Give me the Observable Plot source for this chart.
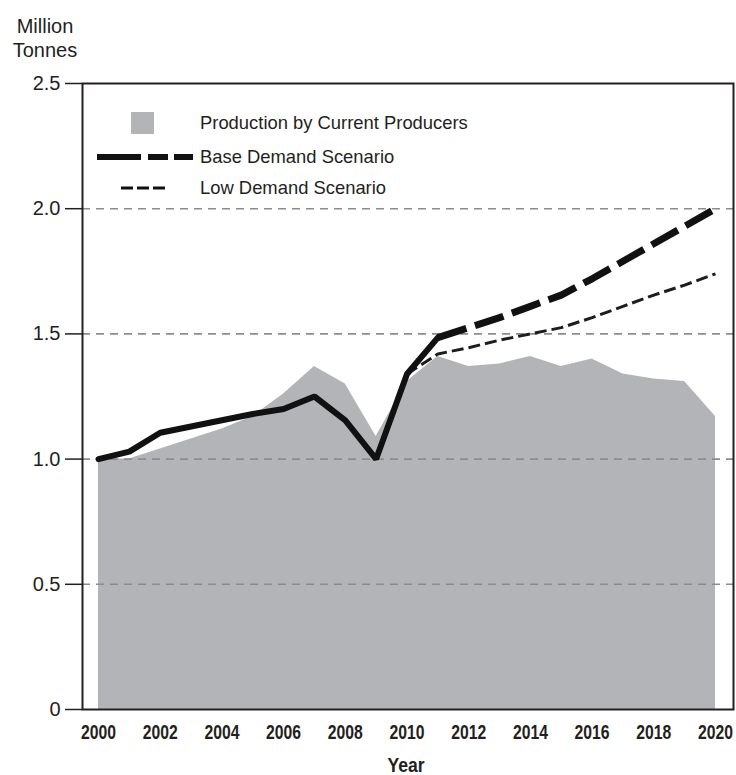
<!DOCTYPE html>
<html>
<head>
<meta charset="utf-8">
<script src="https://cdn.jsdelivr.net/npm/d3@7"></script>
<script src="https://cdn.jsdelivr.net/npm/@observablehq/plot@0.6"></script>
<style>
  html, body { margin: 0; padding: 0; background: #fff; }
  #wrap { position: relative; width: 736px; height: 775px; font-family: "Liberation Sans", Arial, sans-serif; color: #231f20; }
  .abs { position: absolute; white-space: nowrap; }
  .leg { font-size: 18.4px; line-height: 18px; }
</style>
</head>
<body>
<div id="wrap"></div>
<script>
// ---- data ----
const years = [2000, 2001, 2002, 2003, 2004, 2005, 2006, 2007, 2008, 2009, 2010,
               2011, 2012, 2013, 2014, 2015, 2016, 2017, 2018, 2019, 2020];
const production = [1.00, 1.00, 1.04, 1.08, 1.12, 1.17, 1.26, 1.37, 1.30, 1.09, 1.31,
                    1.41, 1.37, 1.38, 1.41, 1.37, 1.40, 1.34, 1.32, 1.31, 1.17];
const historyYears = [2000, 2001, 2002, 2003, 2004, 2005, 2006, 2007, 2008, 2009, 2010, 2011];
const historyDemand = [1.00, 1.03, 1.105, 1.13, 1.155, 1.18, 1.20, 1.25, 1.155, 1.00, 1.34, 1.485];
const baseYears = [2011, 2012, 2013, 2014, 2015, 2016, 2017, 2018, 2019, 2020];
const baseDemand = [1.485, 1.525, 1.565, 1.61, 1.655, 1.72, 1.79, 1.86, 1.93, 2.00];
const lowYears = [2010, 2011, 2012, 2013, 2014, 2015, 2016, 2017, 2018, 2019, 2020];
const lowDemand = [1.34, 1.42, 1.445, 1.475, 1.50, 1.525, 1.565, 1.61, 1.655, 1.695, 1.74];
const yTicks = [0, 0.5, 1.0, 1.5, 2.0, 2.5];
const xTicks = [2000, 2002, 2004, 2006, 2008, 2010, 2012, 2014, 2016, 2018, 2020];
const gridValues = [0.5, 1.0, 1.5, 2.0];
const legendLabels = ["Production by Current Producers", "Base Demand Scenario", "Low Demand Scenario"];
const yUnitLines = ["Million", "Tonnes"];
const xTitle = "Year";

// ---- tables ----
const prodData = years.map((y, i) => ({year: y, value: production[i]}));
const histData = historyYears.map((y, i) => ({year: y, value: historyDemand[i]}));
const baseData = baseYears.map((y, i) => ({year: y, value: baseDemand[i]}));
const lowData = lowYears.map((y, i) => ({year: y, value: lowDemand[i]}));

const ink = "#231f20";

const chart = Plot.plot({
  width: 736,
  height: 775,
  marginTop: 83,
  marginBottom: 66,
  marginLeft: 82,
  marginRight: 3,
  insetLeft: 16,
  insetRight: 18,
  style: {fontFamily: "'Liberation Sans', Arial, sans-serif", color: ink, background: "#fff"},
  x: {domain: [2000, 2020]},
  y: {domain: [0, 2.5]},
  marks: [
    Plot.areaY(prodData, {x: "year", y: "value", fill: "#b3b4b7"}),
    Plot.ruleY(gridValues, {stroke: "#8c8c8c", strokeWidth: 1.6, strokeDasharray: "8,6"}),
    Plot.line(lowData, {x: "year", y: "value", stroke: "#1d1d1d", strokeWidth: 3, strokeDasharray: "12,5", strokeLinecap: "butt"}),
    Plot.line(baseData, {x: "year", y: "value", stroke: "#111", strokeWidth: 7, strokeDasharray: "30,9", strokeLinecap: "butt"}),
    Plot.line(histData, {x: "year", y: "value", stroke: "#111", strokeWidth: 6, strokeLinejoin: "miter"}),
    Plot.frame({stroke: ink, strokeWidth: 2}),
    Plot.axisY({ticks: yTicks, tickFormat: d => d === 0 ? "0" : d.toFixed(1), tickSize: 17, tickPadding: 5,
                fontSize: 20, label: null, stroke: ink, strokeWidth: 1.5}),
    Plot.axisX({ticks: xTicks, tickFormat: d => String(d), tickSize: 0, tickPadding: 15,
                fontSize: 21, fontWeight: "bold", label: null})
  ]
});

// condense the bold year labels like the reference's narrow face
d3.select(chart).selectAll('g[aria-label="x-axis tick label"] text')
  .attr("textLength", 35).attr("lengthAdjust", "spacingAndGlyphs");

const wrap = document.getElementById("wrap");
wrap.appendChild(chart);

// y unit label
const unit = document.createElement("div");
unit.className = "abs";
unit.style.cssText = "left:0px;top:14px;width:90px;font-size:20px;line-height:24px;text-align:center;";
unit.innerHTML = yUnitLines.join("<br>");
wrap.appendChild(unit);

// x title
const xt = document.createElement("div");
xt.className = "abs";
xt.style.cssText = "left:406px;top:755px;transform:translateX(-50%) scaleX(0.88);font-size:20px;line-height:20px;font-weight:bold;";
xt.textContent = xTitle;
wrap.appendChild(xt);

// legend
const sq = document.createElement("div");
sq.className = "abs";
sq.style.cssText = "left:131px;top:112px;width:23px;height:22px;background:#b3b4b7;";
wrap.appendChild(sq);

const ns = "http://www.w3.org/2000/svg";
function swatch(left, top, w, sw, dash) {
  const s = document.createElementNS(ns, "svg");
  s.setAttribute("width", w); s.setAttribute("height", 12);
  s.style.cssText = `position:absolute;left:${left}px;top:${top - 6}px;`;
  const l = document.createElementNS(ns, "line");
  l.setAttribute("x1", 0); l.setAttribute("x2", w); l.setAttribute("y1", 6); l.setAttribute("y2", 6);
  l.setAttribute("stroke", "#111"); l.setAttribute("stroke-width", sw);
  l.setAttribute("stroke-dasharray", dash);
  s.appendChild(l);
  wrap.appendChild(s);
}
swatch(97, 157, 96, 6, "44,7,20,6,20");
swatch(121, 188, 44, 3, "12,4,12,4,12");

const rows = [123, 157, 188];
legendLabels.forEach((t, i) => {
  const d = document.createElement("div");
  d.className = "abs leg";
  d.style.cssText += `left:200px;top:${rows[i] - 9}px;`;
  d.textContent = t;
  wrap.appendChild(d);
});
</script>
</body>
</html>
